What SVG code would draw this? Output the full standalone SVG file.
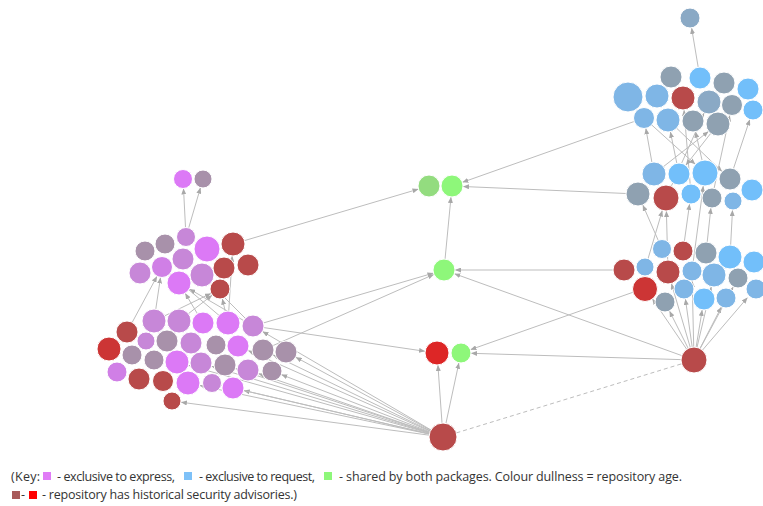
<svg xmlns="http://www.w3.org/2000/svg" width="763" height="506" viewBox="0 0 763 506">
<style>
.e{stroke:#bdbdbd;stroke-width:1;fill:none;marker-end:url(#ah)}
.d{stroke:#bdbdbd;stroke-width:1;fill:none;stroke-dasharray:4 3}
circle{stroke:#ffffff;stroke-width:1}
.pk{fill:#dc79f6}.pm{fill:#d07fe6}.li{fill:#c787d8}.gp{fill:#a891aa}
.rd{fill:#b84a4a}.rb{fill:#cc3535}.rr{fill:#dd2626}
.bb{fill:#72bffa}.bm{fill:#7fb6e6}.gb{fill:#8fa1b1}.bd{fill:#8aa9c5}
.gr{fill:#8ef77a}.gd{fill:#93dc7f}
text{font-family:"Segoe UI","Open Sans","Liberation Sans",sans-serif;font-size:12.5px;fill:#333}
</style>
<defs>
<marker id="ah" markerUnits="userSpaceOnUse" markerWidth="6" markerHeight="5" refX="6" refY="2.5" orient="auto">
<path d="M0,0 L6,2.5 L0,5 z" fill="#a8a8a8"/>
</marker>
</defs>
<g id="connectors">
<line class="e" x1="186" y1="237" x2="183.5" y2="188.5"/>
<line class="e" x1="186" y1="237" x2="200.5" y2="187.6"/>
<line class="e" x1="233" y1="244" x2="418.5" y2="189.1"/>
<line class="e" x1="127" y1="332" x2="157" y2="276.3"/>
<line class="e" x1="154" y1="321" x2="160.5" y2="277.4"/>
<line class="e" x1="228" y1="323" x2="170" y2="273.8"/>
<line class="e" x1="203" y1="323" x2="185.2" y2="293.3"/>
<line class="e" x1="154" y1="321" x2="211" y2="293.4"/>
<line class="e" x1="179" y1="321" x2="212.1" y2="295.2"/>
<line class="e" x1="253" y1="326" x2="189.4" y2="289"/>
<line class="e" x1="228" y1="323" x2="222.3" y2="298.7"/>
<line class="e" x1="253" y1="326" x2="210.5" y2="283.5"/>
<line class="e" x1="228" y1="323" x2="232.2" y2="256"/>
<line class="e" x1="253" y1="326" x2="433.4" y2="273.1"/>
<line class="e" x1="263" y1="350" x2="433.9" y2="274.4"/>
<line class="e" x1="253" y1="326" x2="425.1" y2="351.3"/>
<line class="e" x1="443" y1="437" x2="262.5" y2="331.5"/>
<line class="e" x1="443" y1="437" x2="295.7" y2="357.2"/>
<line class="e" x1="443" y1="437" x2="281.3" y2="374.6"/>
<line class="e" x1="443" y1="437" x2="258.4" y2="373.6"/>
<line class="e" x1="443" y1="437" x2="243.7" y2="390.5"/>
<line class="e" x1="443" y1="437" x2="221.3" y2="385.2"/>
<line class="e" x1="443" y1="437" x2="199.7" y2="385.5"/>
<line class="e" x1="443" y1="437" x2="180.9" y2="402.2"/>
<line class="e" x1="443" y1="437" x2="272.9" y2="354.8"/>
<line class="e" x1="443" y1="437" x2="235.4" y2="368.5"/>
<line class="e" x1="443" y1="437" x2="211.5" y2="366.2"/>
<line class="e" x1="443" y1="437" x2="248.1" y2="350.5"/>
<line class="e" x1="443" y1="437" x2="188.5" y2="365.3"/>
<line class="e" x1="443" y1="437" x2="437.9" y2="365"/>
<line class="e" x1="443" y1="437" x2="458.9" y2="362.8"/>
<line class="d" x1="443" y1="437" x2="681.6" y2="363.8"/>
<line class="e" x1="694" y1="360" x2="471" y2="353.3"/>
<line class="e" x1="694" y1="360" x2="454.4" y2="273.7"/>
<line class="e" x1="624" y1="270" x2="455" y2="270"/>
<line class="e" x1="645" y1="288" x2="470.4" y2="349.7"/>
<line class="e" x1="644" y1="118" x2="462.4" y2="182.3"/>
<line class="e" x1="638" y1="194" x2="463" y2="186.5"/>
<line class="e" x1="444" y1="270" x2="451" y2="197"/>
<line class="e" x1="694" y1="360" x2="669.5" y2="311"/>
<line class="e" x1="694" y1="360" x2="685.4" y2="298.9"/>
<line class="e" x1="694" y1="360" x2="702.2" y2="309.9"/>
<line class="e" x1="694" y1="360" x2="721.4" y2="306.9"/>
<line class="e" x1="694" y1="360" x2="747.5" y2="297.6"/>
<line class="e" x1="694" y1="360" x2="652.3" y2="298.7"/>
<line class="e" x1="694" y1="360" x2="692.2" y2="281"/>
<line class="e" x1="694" y1="360" x2="711.3" y2="286.7"/>
<line class="e" x1="694" y1="360" x2="671.4" y2="283.5"/>
<line class="e" x1="694" y1="360" x2="733.3" y2="286.8"/>
<line class="e" x1="662" y1="249" x2="642.8" y2="205"/>
<line class="e" x1="668" y1="272" x2="666.4" y2="211"/>
<line class="e" x1="683" y1="251" x2="689.6" y2="203.9"/>
<line class="e" x1="706" y1="253" x2="710.9" y2="207.9"/>
<line class="e" x1="730" y1="257" x2="732.5" y2="210"/>
<line class="e" x1="692" y1="271" x2="703.3" y2="185.9"/>
<line class="e" x1="645" y1="269" x2="662.3" y2="210.5"/>
<line class="e" x1="654" y1="174" x2="645.8" y2="128.3"/>
<line class="e" x1="679" y1="174" x2="670.4" y2="131.8"/>
<line class="e" x1="705" y1="173" x2="695.5" y2="131.7"/>
<line class="e" x1="654" y1="174" x2="708.5" y2="131.4"/>
<line class="e" x1="730" y1="179" x2="749.8" y2="119.5"/>
<line class="e" x1="668" y1="120" x2="722" y2="171.4"/>
<line class="e" x1="644" y1="118" x2="695.3" y2="164.3"/>
<line class="e" x1="691" y1="194" x2="684" y2="110"/>
<line class="e" x1="666" y1="198" x2="704.1" y2="113"/>
<line class="e" x1="718" y1="124" x2="685.8" y2="165.3"/>
<line class="e" x1="712" y1="198" x2="729.8" y2="115.3"/>
<line class="e" x1="700" y1="78" x2="691.6" y2="27.9"/>
</g>
<g id="L1"><circle class="pk" cx="183" cy="179" r="9.5"/></g>
<g id="L2"><circle class="gp" cx="203" cy="179" r="9"/></g>
<g id="U1"><circle class="gp" cx="145" cy="251" r="10"/></g>
<g id="U2"><circle class="gp" cx="165" cy="244" r="10"/></g>
<g id="U3"><circle class="li" cx="186" cy="237" r="9.5"/></g>
<g id="U4"><circle class="pk" cx="207" cy="249" r="13"/></g>
<g id="U5"><circle class="rd" cx="233" cy="244" r="12"/></g>
<g id="U6"><circle class="li" cx="140" cy="273" r="11"/></g>
<g id="U7"><circle class="pm" cx="162" cy="267" r="10.5"/></g>
<g id="U8"><circle class="li" cx="183" cy="259" r="11"/></g>
<g id="U9"><circle class="rd" cx="224" cy="268" r="11"/></g>
<g id="U10"><circle class="rd" cx="248" cy="265" r="11"/></g>
<g id="U11"><circle class="pk" cx="179" cy="283" r="12"/></g>
<g id="U12"><circle class="li" cx="202" cy="275" r="12"/></g>
<g id="U13"><circle class="rd" cx="220" cy="289" r="10"/></g>
<g id="B1"><circle class="li" cx="154" cy="321" r="12"/></g>
<g id="B2"><circle class="li" cx="179" cy="321" r="12"/></g>
<g id="B3"><circle class="pk" cx="203" cy="323" r="11"/></g>
<g id="B4"><circle class="pk" cx="228" cy="323" r="12"/></g>
<g id="B5"><circle class="li" cx="253" cy="326" r="11"/></g>
<g id="B6"><circle class="rd" cx="127" cy="332" r="11"/></g>
<g id="B7"><circle class="li" cx="146" cy="341" r="9"/></g>
<g id="B8"><circle class="gp" cx="167" cy="341" r="11"/></g>
<g id="B9"><circle class="li" cx="191" cy="343" r="11"/></g>
<g id="B10"><circle class="gp" cx="216" cy="345" r="10"/></g>
<g id="B11"><circle class="pk" cx="238" cy="346" r="11"/></g>
<g id="B12"><circle class="gp" cx="263" cy="350" r="11"/></g>
<g id="B13"><circle class="gp" cx="286" cy="352" r="11"/></g>
<g id="B14"><circle class="rb" cx="109" cy="349" r="12"/></g>
<g id="B15"><circle class="gp" cx="132" cy="355" r="10"/></g>
<g id="B16"><circle class="gp" cx="154" cy="360" r="10"/></g>
<g id="B17"><circle class="pk" cx="177" cy="362" r="12"/></g>
<g id="B18"><circle class="li" cx="201" cy="363" r="11"/></g>
<g id="B19"><circle class="gp" cx="225" cy="365" r="11"/></g>
<g id="B20"><circle class="li" cx="248" cy="370" r="11"/></g>
<g id="B21"><circle class="gp" cx="272" cy="371" r="10"/></g>
<g id="B22"><circle class="pm" cx="117" cy="372" r="10"/></g>
<g id="B23"><circle class="rd" cx="139" cy="379" r="11"/></g>
<g id="B24"><circle class="rd" cx="163" cy="381" r="10.5"/></g>
<g id="B25"><circle class="pk" cx="188" cy="383" r="12"/></g>
<g id="B26"><circle class="li" cx="212" cy="383" r="9.5"/></g>
<g id="B27"><circle class="pk" cx="233" cy="388" r="11"/></g>
<g id="B28"><circle class="rd" cx="172" cy="401" r="9"/></g>
<g id="G1"><circle class="gd" cx="429" cy="186" r="11"/></g>
<g id="G2"><circle class="gr" cx="452" cy="186" r="11"/></g>
<g id="G3"><circle class="gr" cx="444" cy="270" r="11"/></g>
<g id="RM"><circle class="rr" cx="437" cy="353" r="12"/></g>
<g id="G4"><circle class="gr" cx="461" cy="353" r="10"/></g>
<g id="BR"><circle class="rd" cx="443" cy="437" r="14"/></g>
<g id="Top"><circle class="bd" cx="690" cy="18" r="10"/></g>
<g id="T1"><circle class="gb" cx="671" cy="77" r="11"/></g>
<g id="T2"><circle class="bb" cx="700" cy="78" r="11"/></g>
<g id="T3"><circle class="gb" cx="724" cy="83" r="11"/></g>
<g id="T4"><circle class="bb" cx="748" cy="89" r="11"/></g>
<g id="T5"><circle class="bm" cx="628" cy="97" r="15"/></g>
<g id="T6"><circle class="bm" cx="657" cy="96" r="12"/></g>
<g id="T7"><circle class="rd" cx="683" cy="98" r="12"/></g>
<g id="T8"><circle class="bd" cx="709" cy="102" r="12"/></g>
<g id="T9"><circle class="gb" cx="732" cy="105" r="10.5"/></g>
<g id="T10"><circle class="bb" cx="753" cy="110" r="10"/></g>
<g id="T11"><circle class="bm" cx="644" cy="118" r="10.5"/></g>
<g id="T12"><circle class="bm" cx="668" cy="120" r="12"/></g>
<g id="T13"><circle class="gb" cx="693" cy="121" r="11"/></g>
<g id="T14"><circle class="gb" cx="718" cy="124" r="12"/></g>
<g id="M1"><circle class="bm" cx="654" cy="174" r="12"/></g>
<g id="M2"><circle class="bb" cx="679" cy="174" r="11"/></g>
<g id="M3"><circle class="bb" cx="705" cy="173" r="13"/></g>
<g id="M4"><circle class="gb" cx="730" cy="179" r="11"/></g>
<g id="M5"><circle class="bb" cx="752" cy="190" r="11"/></g>
<g id="M6"><circle class="gb" cx="638" cy="194" r="12"/></g>
<g id="M7"><circle class="rd" cx="666" cy="198" r="13"/></g>
<g id="M8"><circle class="bb" cx="691" cy="194" r="10"/></g>
<g id="M9"><circle class="gb" cx="712" cy="198" r="10"/></g>
<g id="M10"><circle class="bm" cx="733" cy="201" r="9"/></g>
<g id="Bt1"><circle class="bm" cx="662" cy="249" r="9.5"/></g>
<g id="Bt2"><circle class="rd" cx="683" cy="251" r="10"/></g>
<g id="Bt3"><circle class="gb" cx="706" cy="253" r="11"/></g>
<g id="Bt4"><circle class="bb" cx="730" cy="257" r="12"/></g>
<g id="Bt5"><circle class="bb" cx="754" cy="262" r="11"/></g>
<g id="Bt6"><circle class="rd" cx="624" cy="270" r="11"/></g>
<g id="Bt7"><circle class="bm" cx="645" cy="267" r="9"/></g>
<g id="Bt8"><circle class="rd" cx="668" cy="272" r="12"/></g>
<g id="Bt9"><circle class="bm" cx="692" cy="271" r="10"/></g>
<g id="Bt10"><circle class="bm" cx="714" cy="275" r="12"/></g>
<g id="Bt11"><circle class="gb" cx="738" cy="278" r="10"/></g>
<g id="Bt12"><circle class="bm" cx="756" cy="289" r="10"/></g>
<g id="Bt13"><circle class="rb" cx="645" cy="289" r="12.5"/></g>
<g id="Bt14"><circle class="bm" cx="684" cy="289" r="10"/></g>
<g id="Bt15"><circle class="gb" cx="665" cy="302" r="10"/></g>
<g id="Bt16"><circle class="bb" cx="704" cy="299" r="11"/></g>
<g id="Bt17"><circle class="bm" cx="726" cy="298" r="10"/></g>
<g id="RR"><circle class="rd" cx="694" cy="360" r="13"/></g>
<g id="legend">
<text x="11" y="481" textLength="29">(Key:</text>
<rect x="43" y="472" width="8" height="8" fill="#e07cf6"/>
<text x="57" y="481" textLength="118">- exclusive to express,</text>
<rect x="184" y="472" width="8" height="8" fill="#7ec1f8"/>
<text x="199" y="481" textLength="116">- exclusive to request,</text>
<rect x="324" y="472" width="8" height="8" fill="#8ef77a"/>
<text x="339" y="481" textLength="343">- shared by both packages. Colour dullness = repository age.</text>
<rect x="12" y="491" width="8" height="8" fill="#a85a5a"/>
<text x="21" y="499">-</text>
<rect x="29" y="491" width="8" height="8" fill="#ff0000"/>
<text x="42" y="499" textLength="255">- repository has historical security advisories.)</text>
</g>
</svg>
